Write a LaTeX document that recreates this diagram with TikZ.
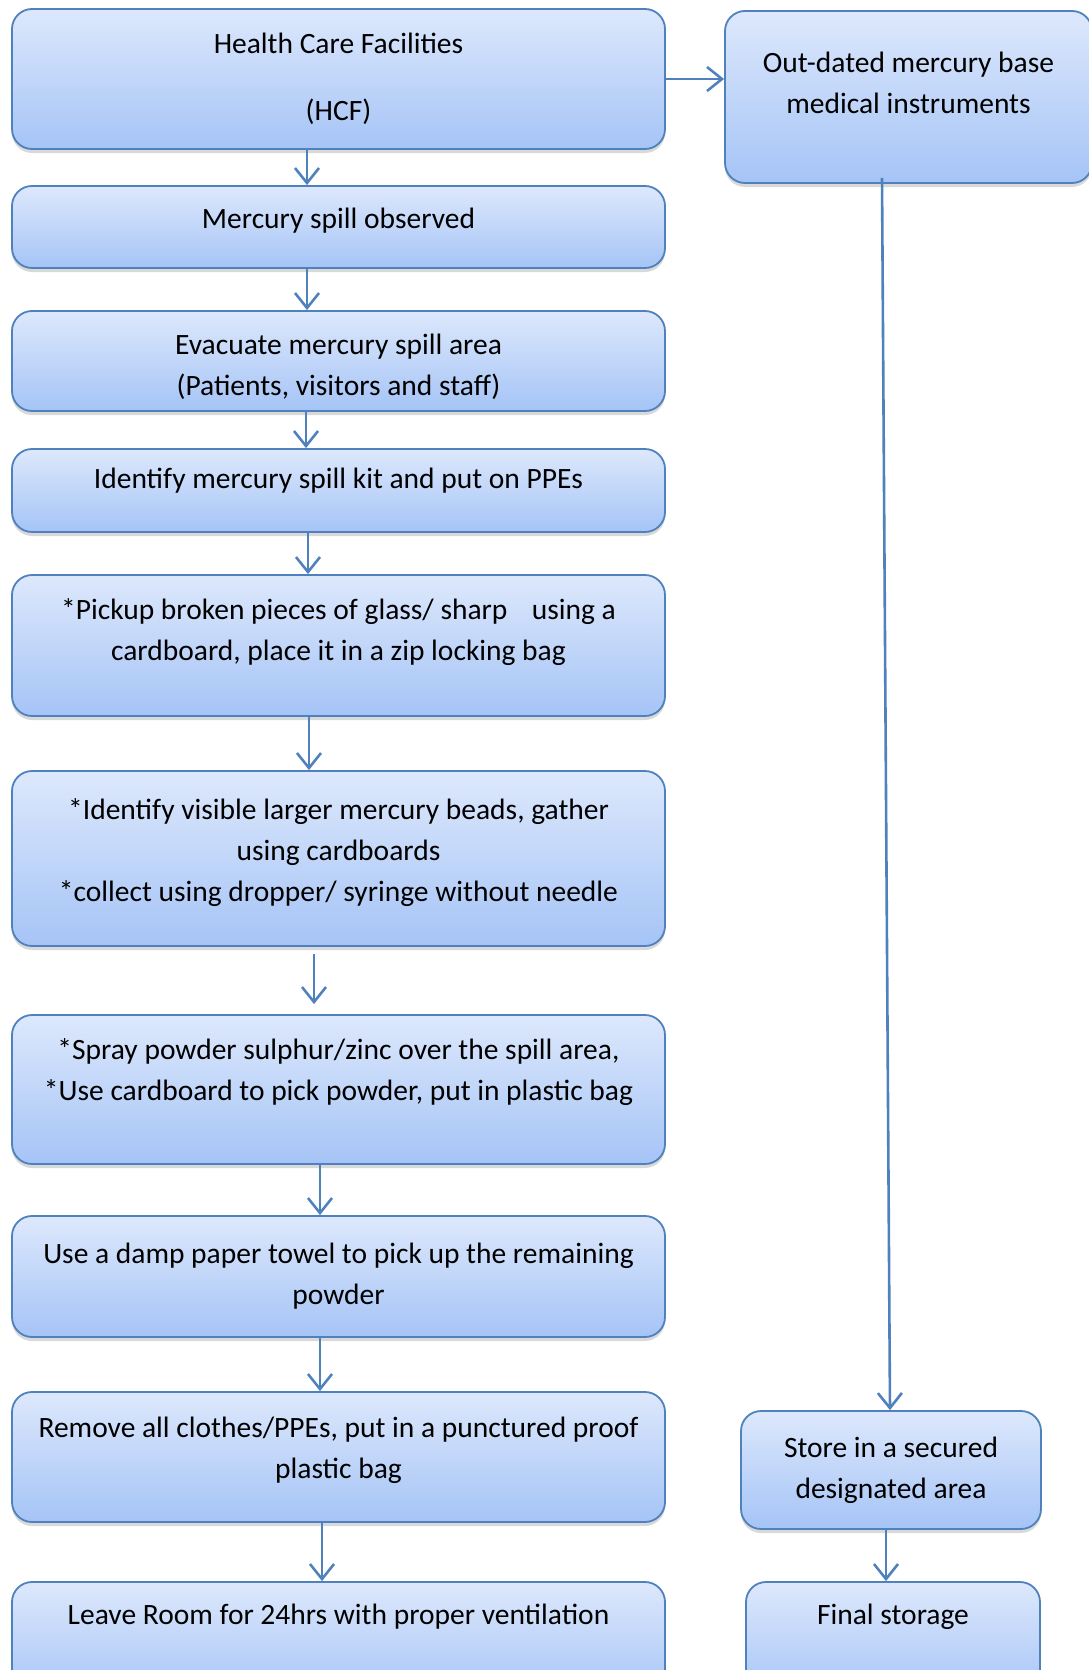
\documentclass[tikz,border=0pt]{standalone}
\usepackage{fontspec}
\setmainfont{Carlito}
\usetikzlibrary{calc,positioning,shadows,arrows.meta}
\definecolor{boxtop}{RGB}{221,232,252}
\definecolor{boxbot}{RGB}{165,196,246}
\definecolor{boxline}{RGB}{79,129,189}
\tikzstyle{stepbox} = [rectangle, rounded corners=20pt, draw=boxline, line width=1.8pt, top color=boxtop, bottom color=boxbot, align=center, inner sep=0pt, drop shadow={shadow xshift=0pt, shadow yshift=-4pt, opacity=0.3}]
\tikzstyle{arrow}   = [line width=2.6pt, draw=boxline, -{Straight Barb[length=15pt,width=24pt]}]

\begin{document}
\begin{tikzpicture}[x=1pt, y=-1pt, font=\fontsize{29.5pt}{41pt}\selectfont]
		\useasboundingbox (0,0) rectangle (1089,1670);
		\clip (0,0) rectangle (1089,1670);

		% main column
		\node[stepbox, minimum width=653pt, minimum height=140pt] (hcf) at (338.5,79) {Health Care Facilities\\[26pt](HCF)};
		\node[stepbox, minimum width=653pt, minimum height=82pt] (spill) at (338.5,227) {Mercury spill observed\\[-23pt]\mbox{}};
		\node[stepbox, minimum width=653pt, minimum height=100pt] (evac) at (338.5,361) {\mbox{}\\[-9pt]Evacuate mercury spill area\\(Patients, visitors and staff)};
		\node[stepbox, minimum width=653pt, minimum height=83pt] (kit) at (338.5,490.5) {Identify mercury spill kit and put on PPEs\\[-17pt]\mbox{}};
		\node[stepbox, minimum width=653pt, minimum height=141pt] (glass) at (338.5,645.5) {*Pickup broken pieces of glass/ sharp\hspace{0.6em} using a\\cardboard, place it in a zip locking bag\\[-9pt]\mbox{}};
		\node[stepbox, minimum width=653pt, minimum height=175pt] (beads) at (338.5,858.5) {*Identify visible larger mercury beads, gather\\using cardboards\\*collect using dropper/ syringe without needle\\[-25pt]\mbox{}};
		\node[stepbox, minimum width=653pt, minimum height=149pt] (spray) at (338.5,1089.5) {*Spray powder sulphur/zinc over the spill area,\\*Use cardboard to pick powder, put in plastic bag\\[-2pt]\mbox{}};
		\node[stepbox, minimum width=653pt, minimum height=121pt] (towel) at (338.5,1276.5) {Use a damp paper towel to pick up the remaining\\powder};
		\node[stepbox, minimum width=653pt, minimum height=130pt] (clothes) at (338.5,1457) {Remove all clothes/PPEs, put in a punctured proof\\plastic bag\\[-23pt]\mbox{}};
		\node[stepbox, minimum width=653pt, minimum height=118pt] (leave) at (338.5,1641) {Leave Room for 24hrs with proper ventilation\\[12pt]\mbox{}};

		% side column
		\node[stepbox, minimum width=367pt, minimum height=172pt] (outdated) at (908.5,97) {Out-dated mercury base\\medical instruments\\[-12pt]\mbox{}};
		\node[stepbox, minimum width=300pt, minimum height=118pt] (store) at (891,1470) {Store in a secured\\designated area};
		\node[stepbox, minimum width=294pt, minimum height=118pt] (final) at (893,1641) {Final storage\\[12pt]\mbox{}};

		% connectors
		\foreach \from/\to/\dx in {hcf/spill/-31.5, spill/evac/-31.5, evac/kit/-32.5, kit/glass/-30.5, glass/beads/-29.5, spray/towel/-18.5, towel/clothes/-18.5, clothes/leave/-16.5}
			\draw[arrow] ($(\from.south)+(\dx,0)$) -- ($(\to.north)+(\dx,0)$);
		\draw[arrow] ($(beads.south)+(-24.5,7)$) -- ($(spray.north)+(-24.5,-10)$);
		\draw[arrow] (hcf.east) -- (outdated.west |- hcf.east);
		\draw[arrow] ($(outdated.south)+(-26.5,-6)$) -- ($(store.north)+(-1,0)$);
		\draw[arrow] ($(store.south)+(-5,0)$) -- ($(final.north)+(-7,0)$);
	\end{tikzpicture}
\end{document}
